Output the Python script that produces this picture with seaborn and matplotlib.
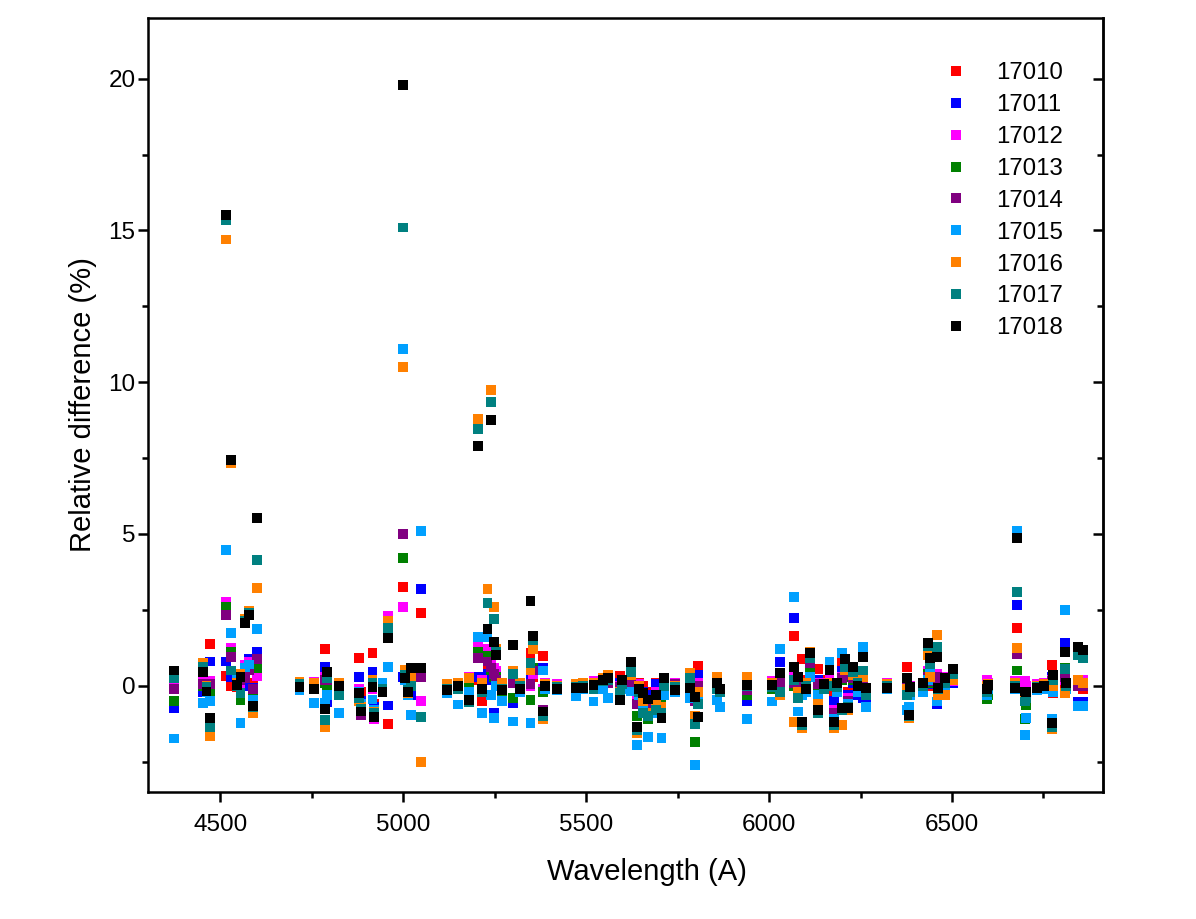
import numpy as np
import pandas as pd
import matplotlib
matplotlib.use("Agg")
import matplotlib.pyplot as plt
from matplotlib.lines import Line2D
from matplotlib.ticker import MultipleLocator
import seaborn as sns

# wavelengths of the measured lines (A), shared by all runs
wavelength = [4372, 4452, 4462, 4472, 4515, 4530, 4546, 4555, 4568, 4578,
              4588, 4600, 4716, 4755, 4785, 4792, 4825, 4878, 4884, 4916,
              4920, 4943, 4958, 5000, 5005, 5012, 5020, 5048, 5120, 5150,
              5180, 5205, 5215, 5230, 5240, 5248, 5254, 5270, 5300, 5320,
              5348, 5355, 5383, 5388, 5420, 5473, 5492, 5520, 5545, 5560,
              5593, 5597, 5623, 5640, 5645, 5655, 5670, 5690, 5706, 5712,
              5743, 5784, 5798, 5806, 5858, 5866, 5940, 6008, 6030, 6068,
              6080, 6090, 6100, 6112, 6133, 6150, 6165, 6178, 6186, 6200,
              6207, 6215, 6230, 6242, 6257, 6266, 6322, 6377, 6382, 6385,
              6420, 6435, 6440, 6460, 6463, 6480, 6503, 6595, 6598, 6672,
              6678, 6700, 6703, 6732, 6752, 6773, 6776, 6809, 6811, 6844,
              6858]

# relative difference (%) per run
r17010 = [0.2, 0.3, 0.1, 1.38, 0.33, 0.0, -0.03, -0.2, 0.5, 0.6,
          0.1, 0.75, 0.0, 0.05, 1.2, -0.36, 0.0, 0.92, -0.2, 1.08,
          -0.6, 0.1, -1.25, 3.26, 0.5, -0.1, 0.2, 2.4, 0.0, 0.1,
          0.2, 0.2, -0.5, 0.5, 0.3, 0.2, 0.1, -0.1, 0.3, -0.1,
          1.08, 0.3, 0.98, 0.05, 0.0, 0.0, 0.05, 0.1, 0.2, 0.3,
          0.33, 0.1, 0.3, -0.3, 0.1, 0.0, -0.2, 0.1, -0.1, 0.2,
          0.0, 0.1, -0.1, 0.66, 0.0, -0.1, 0.1, 0.1, 0.0, 1.65,
          0.3, 0.88, 0.2, 0.4, 0.56, 0.2, 0.3, -0.3, 0.1, 0.8,
          0.6, -0.2, 0.2, 0.0, 0.1, -0.4, 0.05, 0.62, 0.0, 0.0,
          0.1, 0.3, 0.0, 0.3, 0.1, 0.2, 0.2, 0.0, 0.05, 0.1,
          1.9, 0.1, 0.0, 0.0, 0.05, 0.69, -0.25, 0.1, 0.0, 0.0, -0.1]
r17011 = [-0.73, -0.22, 0.0, 0.8, 0.8, 0.3, 0.16, -0.1, 0.0, 0.9,
          -0.07, 1.12, 0.05, 0.0, 0.63, -0.55, -0.1, 0.3, -0.5, 0.46,
          -0.7, 0.0, -0.65, 0.3, 0.35, -0.2, -0.3, 3.19, -0.05, 0.05,
          0.2, 0.3, -0.9, 0.4, 0.2, -0.9, 0.2, -0.2, -0.57, 0.0,
          0.4, 0.5, 0.6, 0.0, 0.0, 0.0, 0.0, 0.05, 0.1, 0.2,
          0.1, 0.05, 0.2, -0.4, 0.0, -0.2, -0.3, 0.05, -0.2, 0.1,
          0.0, 0.2, -0.3, 0.36, 0.0, -0.2, -0.52, 0.05, 0.77, 2.23,
          -0.3, -0.1, 0.1, 0.5, 0.2, 0.0, 0.1, -0.5, 0.0, 0.5,
          0.3, -0.3, 0.1, -0.3, -0.4, -0.5, 0.0, 0.2, -0.2, -0.1,
          0.0, 0.2, 0.05, -0.6, 0.0, 0.1, 0.1, -0.1, 0.0, 0.0,
          2.66, -0.1, -0.2, 0.0, 0.0, 0.3, -0.1, 1.41, 0.0, -0.52, -0.52]
r17012 = [0.07, 0.23, 0.05, 0.15, 2.75, 1.25, 0.2, 0.0, 0.7, 0.8,
          -0.3, 0.33, 0.1, 0.13, 0.3, 0.1, 0.0, -0.1, -0.9, -0.1,
          -1.1, 0.0, 2.3, 2.6, 0.4, -0.15, 0.1, -0.5, 0.05, 0.1,
          0.3, 1.4, 0.2, 1.2, 0.7, 0.6, 0.5, 0.0, 0.2, 0.1,
          0.0, 0.4, -0.1, 0.1, 0.05, 0.05, 0.1, 0.15, 0.2, 0.15,
          0.0, 0.1, 0.15, -0.5, 0.05, -0.3, -0.5, -0.2, -0.2, 0.15,
          0.1, 0.1, -0.4, 0.1, 0.05, -0.1, 0.05, 0.15, 0.2, 0.3,
          0.2, -0.1, 0.0, 0.8, 0.1, 0.1, 0.2, -0.8, 0.05, 0.3,
          0.4, -0.4, 0.3, 0.0, 0.3, -0.2, 0.1, 0.1, -0.1, 0.0,
          0.1, 0.5, 0.2, 0.4, 0.1, 0.3, 0.15, 0.2, 0.1, 0.15,
          0.13, 0.15, 0.0, 0.05, 0.1, 0.2, 0.1, 0.2, 0.05, 0.2, 0.2]
r17013 = [-0.49, 0.0, -0.1, -0.25, 2.6, 1.1, 0.1, -0.46, 0.4, 0.5,
          -0.2, 0.59, 0.0, -0.05, 0.1, 0.0, -0.3, -0.3, -0.8, 0.0,
          -0.9, -0.1, 2.0, 4.22, 0.45, -0.1, 0.2, 0.45, -0.1, 0.0,
          0.1, 1.12, 0.0, 1.0, 0.5, 0.3, 0.3, -0.4, -0.4, 0.0,
          -0.46, 0.6, -0.2, 0.0, -0.05, 0.0, 0.0, 0.05, 0.1, 0.1,
          -0.1, 0.0, 0.05, -1.0, -0.1, -0.8, -1.1, -0.7, -0.6, 0.0,
          -0.05, 0.0, -1.84, -0.3, -0.1, -0.2, -0.3, -0.1, -0.1, 0.0,
          -0.2, 0.0, -0.05, 0.6, 0.0, -0.1, 0.0, -1.0, -0.1, 0.2,
          0.3, -0.5, 0.2, -0.1, 0.2, -0.3, -0.05, 0.0, -0.3, -0.2,
          0.0, 0.4, 0.1, 0.2, -0.05, 0.1, 0.2, -0.45, -0.3, 0.0,
          0.5, -1.1, -0.65, -0.1, 0.0, 0.1, 0.0, 0.6, 0.0, 0.0, 0.0]
r17014 = [-0.1, 0.06, -0.05, 0.05, 2.34, 0.95, 0.05, 0.2, 0.26, 0.5,
          -0.1, 0.88, 0.05, 0.08, 0.2, 0.2, 0.05, -0.2, -0.95, 0.05,
          -0.95, 0.0, 1.9, 5.0, 0.4, -0.2, 0.15, 0.3, -0.05, 0.05,
          -0.35, 0.92, 0.1, 0.8, 0.6, 0.4, 0.2, -0.1, 0.1, 0.05,
          0.05, 0.5, -0.8, 0.0, 0.0, 0.0, 0.05, 0.0, 0.15, 0.1,
          -0.05, 0.05, 0.1, -0.6, -0.05, -0.4, -0.6, -0.3, -0.3, 0.05,
          0.05, 0.05, -0.5, 0.0, 0.0, -0.15, -0.15, 0.0, 0.1, 0.1,
          -0.1, 0.0, 0.05, 0.75, 0.05, 0.0, 0.1, -0.9, 0.0, 0.25,
          0.35, -0.5, 0.25, -0.05, 0.2, -0.3, 0.05, 0.05, -0.2, -0.1,
          0.05, 0.3, 0.15, 0.3, 0.0, 0.2, 0.25, -0.2, -0.1, 0.05,
          1.05, -0.3, -0.2, 0.0, 0.05, 0.15, 0.0, 0.3, 0.0, 0.0, 0.0]
r17015 = [-1.74, -0.57, -0.2, -0.5, 4.47, 1.74, 0.3, -1.23, 0.6, 0.7,
          -0.46, 1.87, -0.15, -0.57, -0.57, -0.3, -0.9, -0.2, -0.6, -0.45,
          -0.8, 0.1, 0.63, 11.1, 0.2, -0.3, -0.95, 5.1, -0.25, -0.62,
          -0.2, 1.62, -0.9, 1.6, -0.3, -1.05, 0.0, -0.5, -1.18, -0.2,
          -1.23, 1.4, 0.5, -0.1, -0.15, -0.33, -0.1, -0.52, -0.1, -0.4,
          -0.3, -0.1, -0.19, -1.94, -0.3, -0.6, -1.68, -0.9, -1.71, -0.3,
          -0.2, -0.4, -2.6, -0.5, -0.46, -0.69, -1.09, -0.52, 1.22, 2.93,
          -0.85, -0.3, -0.2, 0.3, -0.3, -0.1, 0.8, -1.1, -0.2, 1.08,
          0.7, -0.6, 0.5, -0.2, 1.28, -0.69, -0.1, -0.8, -0.69, -0.3,
          -0.2, 0.2, 0.5, -0.52, -0.1, 0.0, 0.3, -0.3, -0.1, -0.1,
          5.1, -1.61, -1.05, -0.15, -0.1, -1.1, -0.2, 2.5, -0.1, -0.67, -0.67]
r17016 = [0.3, 0.75, 0.0, -1.67, 14.7, 7.35, 0.1, 0.4, 2.2, 2.45,
          -0.9, 3.22, 0.12, 0.1, -1.35, 0.35, 0.1, -0.5, -0.7, 0.2,
          -0.85, -0.15, 2.14, 10.5, 0.53, -0.25, 0.3, -2.5, 0.05, 0.1,
          0.25, 8.8, 0.1, 3.2, 9.75, 2.6, 1.2, 0.1, 0.5, 0.1,
          0.5, 1.2, -1.1, 0.05, 0.0, 0.05, 0.1, 0.1, 0.25, 0.35,
          -0.2, 0.15, 0.35, -1.55, 0.0, -0.5, -0.9, -0.6, -0.7, 0.2,
          0.0, 0.43, -1.0, -0.2, 0.3, -0.1, 0.3, 0.1, -0.3, -1.2,
          -0.2, -1.4, 0.1, 1.1, -0.6, 0.0, 0.1, -1.4, 0.1, -1.3,
          0.5, -0.8, 0.35, 0.1, 0.3, -0.2, 0.05, -0.1, -1.05, -0.15,
          0.1, 1.0, 0.3, 1.68, -0.3, -0.3, 0.2, 0.0, 0.05, 0.1,
          1.25, -0.5, -0.3, 0.0, 0.05, -1.44, 0.0, -0.25, 0.0, 0.2, 0.1]
r17017 = [0.26, 0.62, -0.05, -1.37, 15.35, 0.5, 0.0, -0.24, 2.15, 2.4,
          -0.7, 4.14, 0.05, -0.1, -1.12, 0.25, -0.3, -0.4, -0.75, 0.1,
          -0.9, -0.1, 1.91, 15.1, 0.35, -0.15, 0.0, -1.02, -0.1, -0.1,
          -0.55, 8.45, -0.2, 2.73, 9.35, 2.2, 1.1, -0.1, 0.4, 0.0,
          0.75, 1.5, -1.0, 0.0, -0.05, -0.05, 0.0, -0.1, 0.15, 0.2,
          -0.25, 0.05, 0.46, -1.45, -0.2, -0.9, -1.0, -0.8, -0.9, 0.0,
          -0.05, 0.25, -1.25, -0.6, -0.1, -0.2, 0.0, -0.05, -0.2, 0.2,
          -0.4, -1.3, 0.0, 0.9, -0.9, -0.1, 0.0, -1.3, -0.05, -0.8,
          0.6, -0.7, 0.45, 0.1, 0.5, -0.3, 0.0, -0.3, -1.0, -0.2,
          0.0, 1.3, 0.7, 1.28, -0.1, 0.1, 0.4, -0.2, 0.0, 0.0,
          3.1, -0.52, -0.4, -0.05, 0.0, -1.35, 0.2, 0.55, 0.0, 1.0, 0.92]
r17018 = [0.5, 0.44, -0.19, -1.05, 15.5, 7.45, 0.03, 0.3, 2.07, 2.33,
          -0.66, 5.53, -0.03, -0.1, -0.76, 0.46, 0.0, -0.23, -0.85, -0.03,
          -1.02, -0.2, 1.58, 19.8, 0.26, -0.2, 0.59, 0.59, -0.13, 0.0,
          -0.46, 7.9, -0.1, 1.87, 8.75, 1.45, 1.02, -0.15, 1.35, -0.1,
          2.8, 1.64, -0.85, 0.0, -0.1, -0.07, -0.07, 0.03, 0.2, 0.26,
          -0.46, 0.2, 0.79, -1.35, -0.1, -0.25, -0.45, -0.3, -1.05, 0.26,
          -0.13, -0.07, -0.36, -1.02, 0.1, -0.1, 0.03, 0.03, 0.43, 0.63,
          0.3, -1.2, -0.1, 1.08, -0.79, 0.05, 0.53, -1.2, 0.1, -0.72,
          0.88, -0.72, 0.62, 0.0, 0.95, -0.07, -0.07, 0.26, -0.95, -0.03,
          0.1, 1.41, 0.92, 0.95, -0.07, 0.26, 0.56, -0.1, 0.03, -0.07,
          4.87, -0.19, -0.2, -0.07, 0.0, -1.22, 0.36, 1.12, 0.1, 1.28, 1.18]

runs = ["17010", "17011", "17012", "17013", "17014",
        "17015", "17016", "17017", "17018"]
series = [r17010, r17011, r17012, r17013, r17014,
          r17015, r17016, r17017, r17018]
colors = ["#FF0000", "#0000FF", "#FF00FF", "#008000", "#800080",
          "#00A0FF", "#FF8000", "#008080", "#000000"]

for s in series:
    assert len(s) == len(wavelength)

# long format, later runs drawn on top
frames = []
for name, vals in zip(runs, series):
    frames.append(pd.DataFrame({"Wavelength": wavelength, "Diff": vals, "Run": name}))
df = pd.concat(frames, ignore_index=True)

sns.set_style("ticks")
plt.rcParams["font.family"] = ["Liberation Sans", "DejaVu Sans"]
plt.rcParams["text.color"] = "black"
plt.rcParams["axes.labelcolor"] = "black"
plt.rcParams["xtick.color"] = "black"
plt.rcParams["ytick.color"] = "black"

fig = plt.figure(figsize=(11.96, 9.19), dpi=100)
ax = fig.add_axes([148 / 1196, 1 - 792 / 919, (1103 - 148) / 1196, (792 - 18) / 919])

sns.scatterplot(data=df, x="Wavelength", y="Diff", hue="Run", hue_order=runs,
                palette=colors, marker="s", s=50, linewidth=0, legend=False, ax=ax)

ax.set_xlim(4302, 6913)
ax.set_ylim(-3.5, 22)
ax.xaxis.set_major_locator(MultipleLocator(500))
ax.xaxis.set_minor_locator(MultipleLocator(250))
ax.yaxis.set_major_locator(MultipleLocator(5))
ax.yaxis.set_minor_locator(MultipleLocator(2.5))

for sp in ax.spines.values():
    sp.set_linewidth(1.8)
    sp.set_color("black")

ax.tick_params(which="major", direction="out", length=7, width=1.8, labelsize=17.5,
               pad=9, bottom=True, left=True, top=False, right=False)
ax.tick_params(which="minor", direction="out", length=4.5, width=1.8,
               bottom=True, left=True, top=False, right=False)
ax.tick_params(axis="y", which="major", pad=2)
# inward ticks on the right side
ax2 = ax.secondary_yaxis("right")
ax2.yaxis.set_major_locator(MultipleLocator(5))
ax2.yaxis.set_minor_locator(MultipleLocator(2.5))
ax2.tick_params(which="major", direction="in", length=7, width=1.8, labelright=False)
ax2.tick_params(which="minor", direction="in", length=4.5, width=1.8)
ax2.spines["right"].set_linewidth(1.8)

ax.set_xlabel("Wavelength (A)", fontsize=21, labelpad=10)
ax.set_ylabel("Relative difference (%)", fontsize=21, labelpad=8)
ax.xaxis.set_label_coords(0.5225, -0.085)

handles = [Line2D([], [], marker="s", linestyle="none", markersize=6.8,
                  markerfacecolor=c, markeredgewidth=0) for c in colors]
ax.legend(handles, runs, loc="upper right", frameon=False, fontsize=17.3,
          labelspacing=0.41, handletextpad=1.2, handlelength=1.0,
          borderaxespad=0.0, bbox_to_anchor=(0.9685, 0.955))

fig.savefig("out.png", dpi=100)
